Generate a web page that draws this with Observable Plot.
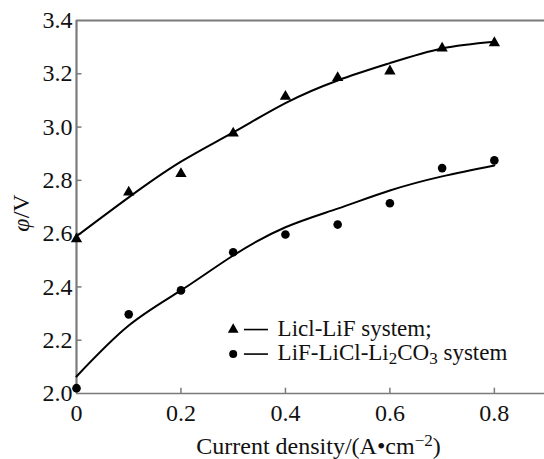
<!DOCTYPE html>
<html>
<head>
<meta charset="utf-8">
<script src="https://cdn.jsdelivr.net/npm/d3@7"></script>
<script src="https://cdn.jsdelivr.net/npm/@observablehq/plot@0.6"></script>
<style>
  html, body { margin: 0; padding: 0; background: #fff; }
  #chart svg { display: block; }
  #chart svg text { font-family: "Liberation Serif", "Times New Roman", serif; }
</style>
</head>
<body>
<div id="chart"></div>
<script>
// Data
const currentDensity = [0, 0.1, 0.2, 0.3, 0.4, 0.5, 0.6, 0.7, 0.8];
const liclLifPoints = [2.58, 2.755, 2.825, 2.977, 3.115, 3.185, 3.21, 3.296, 3.316];
const lifLiclLi2co3Points = [2.02, 2.297, 2.387, 2.53, 2.597, 2.634, 2.714, 2.846, 2.875];
const liclLifFit = [2.59, 2.736, 2.87, 2.98, 3.09, 3.175, 3.24, 3.295, 3.32];
const lifLiclLi2co3Fit = [2.064, 2.255, 2.387, 2.518, 2.624, 2.694, 2.762, 2.815, 2.856];

const xTicks = [0, 0.2, 0.4, 0.6, 0.8];
const xTickLabels = ["0", "0.2", "0.4", "0.6", "0.8"];
const yTicks = [2.0, 2.2, 2.4, 2.6, 2.8, 3.0, 3.2, 3.4];
const yTickLabels = ["2.0", "2.2", "2.4", "2.6", "2.8", "3.0", "3.2", "3.4"];

const legendLabels = ["Licl-LiF system;", "LiF-LiCl-Li2CO3 system"];
const legendSymbols = ["triangle", "circle"];
const legendY = [2.24, 2.148];
const legendX = 0.3;

const xLabel = "Current density/(A\u2022cm-2)";
const yLabel = "\u03c6/V";

const upper = currentDensity.map((x, i) => ({x, y: liclLifPoints[i], fit: liclLifFit[i]}));
const lower = currentDensity.map((x, i) => ({x, y: lifLiclLi2co3Points[i], fit: lifLiclLi2co3Fit[i]}));
const legend = legendLabels.map((label, i) => ({label, symbol: legendSymbols[i], y: legendY[i]}));

const font = "'Liberation Serif', 'Times New Roman', serif";
const gray = "#7a7a7a";

const plot = Plot.plot({
  width: 544,
  height: 459,
  marginLeft: 76,
  marginRight: 0,
  marginTop: 20,
  marginBottom: 66,
  style: {fontFamily: font, fontSize: "24px", background: "#fff", color: "#111"},
  x: {domain: [0, 0.896]},
  y: {domain: [2.0, 3.4]},
  marks: [
    Plot.ruleY([3.4], {stroke: gray, strokeWidth: 2}),
    Plot.ruleY([2.0], {stroke: gray, strokeWidth: 1.6}),
    Plot.ruleX([0], {stroke: gray, strokeWidth: 2.2}),
    Plot.ruleY(yTicks.slice(1, -1), {x1: 0, x2: 0.0105, stroke: gray, strokeWidth: 1.5}),
    Plot.ruleX(xTicks.slice(1), {y1: 2.0, y2: 2.02, stroke: gray, strokeWidth: 1.5}),
    Plot.axisY(yTicks, {tickSize: 0, tickPadding: 4, tickFormat: (d, i) => yTickLabels[i], fontSize: 24, fontFamily: font, label: null}),
    Plot.axisX(xTicks, {tickSize: 0, tickPadding: 10, tickFormat: (d, i) => xTickLabels[i], fontSize: 24, fontFamily: font, label: null}),
    Plot.line(upper, {x: "x", y: "fit", curve: "natural", stroke: "#000", strokeWidth: 2}),
    Plot.line(lower, {x: "x", y: "fit", curve: "natural", stroke: "#000", strokeWidth: 2}),
    Plot.dot(upper, {x: "x", y: "y", symbol: "triangle", r: 4.2, fill: "#000", stroke: "none"}),
    Plot.dot(lower, {x: "x", y: "y", symbol: "circle", r: 4.3, fill: "#000", stroke: "none"}),
    Plot.dot(legend, {x: legendX, y: "y", symbol: "symbol", r: 4, fill: "#000", stroke: "none"}),
    Plot.ruleY(legend, {y: "y", x1: 0.3215, x2: 0.3675, stroke: "#000", strokeWidth: 1.6}),
    Plot.text(legend, {x: 0.385, y: "y", text: "label", textAnchor: "start", lineAnchor: "middle", fontSize: 23, fontFamily: font, dy: -1, fill: "#111"}),
    Plot.text([xLabel], {frameAnchor: "bottom", textAnchor: "middle", lineAnchor: "middle", dy: 53, dx: 8, fontSize: 24, fontFamily: font, fill: "#111"}),
    Plot.text([yLabel], {frameAnchor: "left", textAnchor: "middle", lineAnchor: "middle", dx: -55, dy: 6, rotate: -90, fontSize: 24, fontFamily: font, fill: "#111"})
  ]
});

document.getElementById("chart").appendChild(plot);

// Rich text: subscripts / superscripts / italic
d3.select(plot).selectAll("text").each(function() {
  const t = this.textContent;
  const sel = d3.select(this);
  if (t === "LiF-LiCl-Li2CO3 system") {
    sel.text(null);
    sel.append("tspan").text("LiF-LiCl-Li");
    sel.append("tspan").attr("baseline-shift", "-25%").attr("font-size", "17px").text("2");
    sel.append("tspan").text("CO");
    sel.append("tspan").attr("baseline-shift", "-25%").attr("font-size", "17px").text("3");
    sel.append("tspan").text(" system");
  } else if (t === xLabel) {
    sel.text(null);
    sel.append("tspan").text("Current density/(A\u2022cm");
    sel.append("tspan").attr("baseline-shift", "45%").attr("font-size", "17px").text("\u22122");
    sel.append("tspan").text(")");
  } else if (t === yLabel) {
    sel.text(null);
    sel.append("tspan").attr("font-style", "italic").text("\u03c6");
    sel.append("tspan").text("/V");
  }
});
</script>
</body>
</html>
